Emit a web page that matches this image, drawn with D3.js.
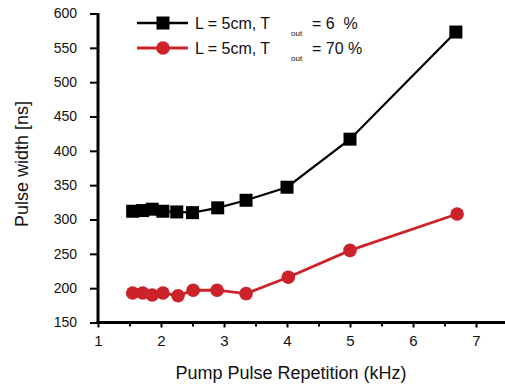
<!DOCTYPE html>
<html><head><meta charset="utf-8">
<script src="https://cdn.jsdelivr.net/npm/d3@7"></script>
<style>
html,body{margin:0;padding:0;background:#fff;}
svg{display:block;font-family:"Liberation Sans",Arial,sans-serif;}
</style></head>
<body>
<svg id="chart" width="505" height="385"></svg>
<script>
const xTicks = [1,2,3,4,5,6,7];
const xMinorTicks = [1.5,2.5,3.5,4.5,5.5,6.5,7.5];
const yTicks = [150,200,250,300,350,400,450,500,550,600];

const blackX = [1.55,1.71,1.86,2.03,2.25,2.5,2.9,3.35,4.0,5.0,6.68];
const blackY = [312,313,315,312,311,310,317,328,347,417,573];
const redX = [1.55,1.71,1.86,2.03,2.27,2.51,2.89,3.35,4.02,5.0,6.7];
const redY = [193,193,190,193,189,197,197,192,216,255,308];

const seriesNames = ["L = 5cm, T", "L = 5cm, T"];
const seriesSub = ["out", "out"];
const seriesTail = ["= 6  %", "= 70 %"];

const svg = d3.select("#chart");
const x = d3.scaleLinear().domain([1, 7.46]).range([98, 505]);
const y = d3.scaleLinear().domain([150, 600]).range([322.5, 13.5]);

// axes
const gx = svg.append("g").attr("transform","translate(0,322.5)")
  .call(d3.axisBottom(x).tickValues(xTicks).tickSize(5).tickPadding(8).tickFormat(d3.format("d")));
gx.select(".domain").remove();
gx.selectAll(".tick line").attr("stroke","#000").attr("stroke-width",2);
gx.selectAll(".tick text").attr("font-size",15).attr("fill","#111").attr("font-family","Liberation Sans, Arial");
const gxm = svg.append("g").attr("transform","translate(0,322.5)")
  .call(d3.axisBottom(x).tickValues(xMinorTicks.filter(v=>v<7.46)).tickSize(4).tickFormat(""));
gxm.select(".domain").remove();
gxm.selectAll(".tick line").attr("stroke","#000").attr("stroke-width",2);

const gy = svg.append("g").attr("transform","translate(98,0)")
  .call(d3.axisLeft(y).tickValues(yTicks).tickSize(8).tickPadding(13).tickFormat(d3.format("d")));
gy.select(".domain").remove();
gy.selectAll(".tick line").attr("stroke","#000").attr("stroke-width",2);
gy.selectAll(".tick text").attr("font-size",14).attr("fill","#111").attr("font-family","Liberation Sans, Arial");

// axis lines
svg.append("line").attr("x1",x(1)).attr("x2",x(1)).attr("y1",y(600)-0.5).attr("y2",y(150)+1.5)
  .attr("stroke","#000").attr("stroke-width",3);
svg.append("line").attr("x1",x(1)-1.5).attr("x2",505).attr("y1",y(150)).attr("y2",y(150))
  .attr("stroke","#000").attr("stroke-width",3);

// axis titles
svg.append("text").attr("x",291).attr("y",379).attr("text-anchor","middle")
  .attr("font-size",18).attr("fill","#111").text("Pump Pulse Repetition (kHz)");
svg.append("text").attr("transform","translate(28,164) rotate(-90)").attr("text-anchor","middle")
  .attr("font-size",18).attr("fill","#111").text("Pulse width [ns]");

const black = blackX.map((v,i)=>({x:v,y:blackY[i]}));
const red = redX.map((v,i)=>({x:v,y:redY[i]}));
const line = d3.line().x(d=>x(d.x)).y(d=>y(d.y));

svg.append("path").datum(black).attr("d",line).attr("fill","none").attr("stroke","#000").attr("stroke-width",2.2);
svg.append("path").datum(red).attr("d",line).attr("fill","none").attr("stroke","#cc2229").attr("stroke-width",2.8);

svg.selectAll("rect.bm").data(black).enter().append("rect").attr("class","bm")
  .attr("x",d=>x(d.x)-6.5).attr("y",d=>y(d.y)-6.5).attr("width",13).attr("height",13).attr("fill","#000");
svg.selectAll("circle.rm").data(red).enter().append("circle").attr("class","rm")
  .attr("cx",d=>x(d.x)).attr("cy",d=>y(d.y)).attr("r",6.8).attr("fill","#cc2229");

// legend
const leg = [{c:"#000",sh:"sq",y:23},{c:"#cc2229",sh:"ci",y:48}];
leg.forEach((l,i)=>{
  const g = svg.append("g");
  g.append("line").attr("x1",137).attr("x2",188).attr("y1",l.y).attr("y2",l.y)
    .attr("stroke",l.c).attr("stroke-width",i===0?2.5:2.8);
  if(l.sh==="sq") g.append("rect").attr("x",163-6.5).attr("y",l.y-6.5).attr("width",13).attr("height",13).attr("fill",l.c);
  else g.append("circle").attr("cx",163).attr("cy",l.y).attr("r",6.8).attr("fill",l.c);
  g.append("text").attr("x",195).attr("y",l.y+6).attr("font-size",16).attr("fill","#111").text(seriesNames[i]);
  g.append("text").attr("x",291).attr("y",l.y+13).attr("font-size",8).attr("fill","#111").text(seriesSub[i]);
  g.append("text").attr("x",312).attr("y",l.y+6).attr("font-size",16).attr("fill","#111").attr("xml:space","preserve").style("white-space","pre").text(seriesTail[i]);
});
</script>
</body></html>
